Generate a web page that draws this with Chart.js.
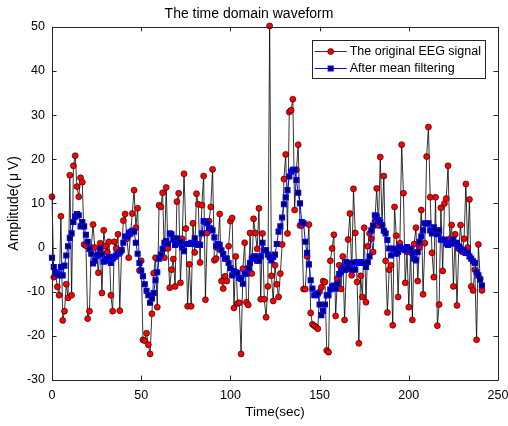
<!DOCTYPE html>
<html>
<head>
<meta charset="utf-8">
<script src="https://cdn.jsdelivr.net/npm/chart.js@4.4.1/dist/chart.umd.min.js"></script>
<style>
  html, body { margin: 0; padding: 0; background: #fff; }
  #wrap { width: 508px; height: 426px; }
</style>
</head>
<body>
<div id="wrap"><canvas id="waveChart" width="508" height="426"></canvas></div>
<script>
// EEG amplitude (uV), one sample per second
const eegRaw = [
  11.5, -6.7, -6, -8.9, -10.8, 7.1, -16.5, -14.4, -8.3, -11.4,
  16.4, -10.8, 18.5, 20.8, 13.8, 11.5, 15.8, 14.8, 0.7, 0.4,
  -16.1, -14.4, 0, 5.2, 0, -2, -5.7, 1, -10.3, 3.9,
  0.3, -1, 1.3, -10.8, -14.4, 1.3, -0.2, 3, -14.3, -0.8,
  6.1, 7.6, 2, -2.3, 3, 7.7, 13, 4.5, 8.9, -5.2,
  -3, -20.9, -21.1, -19.4, -22, -24.1, -15, -5.8, -2.3, -13.5,
  9.6, 9.2, 12.4, -2.3, 13.6, -0.2, -9.1, -5, -2.6, -8.8,
  10.4, 12.3, -8, 2, 16.7, 4.3, -13.3, -3.8, -13.3, 5.5,
  -1.1, 12.2, 9.8, -3.4, 9.6, 16.2, -11.8, 3.3, 6, 9.2,
  17.7, -2.9, -2.5, -0.2, 7.6, -7.6, -9.3, -6.5, -7.6, 0.3,
  6, 6.7, -13.7, -2, -12.7, -12.5, -24.1, -4.8, 1.1, -12.4,
  -13, 3.3, -5.9, 6.5, 3.3, -0.3, 8.9, -11.7, 3.2, -11.7,
  -15.8, -8.8, 50.2, -6.4, -12.1, -4, -8.3, -11.2, -5.9, 0.7,
  15.5, 21.1, 3.2, 30.7, 31.1, 33.6, 8.5, 17.6, 23.3, 5,
  5, -9.4, -9.4, -2, 5.2, -14.8, -17.4, -17.7, -18, -18.4,
  -10, -9, -7.6, -7.8, -23.3, -23.7, -3, -0.2, 2.9, -15.5,
  -7, -4, -9.4, -2, -16.4, -5, 1.8, 7.7, -6.3, 13.3,
  3.3, -7.8, -21.7, -6.4, -11.2, 4.5, -12.4, 0.3, 3.2, 2,
  -1, 6, 13.4, 5, 20.5, 5.1, 16.2, -3, -14.7, -5,
  -4, -17.6, 9.2, 2.7, -11.2, 1, 23.3, 12.3, -8, -1,
  -13.5, -0.5, -16.4, 0.8, 4.5, -7.6, 0, 8.5, -10.6, 1,
  20.6, 27.3, 11.4, -1.2, -6.7, 11.4, -17.7, -12.9, 9, -5.3,
  10, 11.1, 18.5, 2, 5.1, -8.8, 3, -13.1, -0.3, 5.1,
  -1, 2, 14.4, 0, 10.9, -8.8, -9.7, -5, -20.9, 0.7,
  -7, -9.7
];

// after mean filtering
const eegFiltered = [
  -2.3, -4.4, -5.6, -6, -6.3, -4.4, -6.3, -4.1, -1.8, 0.3,
  2.2, 3.2, 5.8, 7, 7.6, 7.3, 4.8, 5.8, 4.8, 2.9,
  1.3, -0.3, -1.4, -3.6, -3, -1.8, -1.6, -0.3, -1.6, -3.2,
  -3, -2.5, -2.1, -3.5, -2.5, -2.1, -1.8, -1.4, -1.1, -0.5,
  1.1, 2.5, 2.5, 3.2, 3.5, 3.8, 3.6, 1.1, -1.4, -3.5,
  -5.2, -6.5, -8.3, -9.8, -10.8, -12.5, -11.5, -10.3, -7.4, -5.6,
  -2.5, -1.6, -0.3, 1.1, 1.5, 0.9, 3.2, 3, 1.8, 0.6,
  2.1, 0.9, 1.3, 0, -0.8, 0.8, 0.8, 0.8, 1.1, 0.8,
  2.1, 0.8, 0.6, 0.6, 3.2, 6, 5.8, 5.5, 4.5, 4.3,
  3.9, 2.3, 0.3, 0.8, 0.6, -0.6, -1.5, -2.5, -2.5, -3.5,
  -4.7, -6.3, -5.3, -5.6, -5.8, -6.9, -7.1, -8.2, -6, -5.9,
  -4.7, -3.5, -2.5, -2.1, -2, -3, -3, -2, 1.1, -0.6,
  -0.6, -1.6, -2.1, -2.9, -2.1, -1.6, 0.8, 3.6, 4.8, 6.8,
  9.8, 11.4, 13, 16.1, 17.2, 17.6, 17.6, 15.3, 12.4, 10,
  5.8, 5.5, 1.3, -1.2, -3.8, -7.4, -9.3, -10.8, -10.8, -10.4,
  -12.9, -15.3, -14.3, -12.9, -10.8, -10.8, -9.5, -8.9, -8.6, -9.3,
  -8.2, -6, -5.5, -4.7, -5.1, -3.3, -4.6, -3.5, -5, -3.4,
  -5, -3.3, -3.5, -3.3, -3.5, -3.5, -4.4, -3.3, -2, 3.9,
  5, 7.3, 7, 6.2, 5.8, 5, 3.8, 3.2, 1.7, -0.2,
  -1.8, -0.2, -0.4, -1.4, -1, 0.1, -0.2, -0.4, -0.6, 0.1,
  -0.6, -0.2, -1.2, -2.5, -2.9, -1, 1.3, 2.5, 3.9, 5.5,
  5.4, 5.5, 3.9, 3.2, 4.6, 3.9, 3, 3.9, 1.8, 1.7,
  1.8, 0.9, 0.6, 0.9, 1.5, 1.8, 0.9, 1.1, 0.3, -0.2,
  -0.6, -0.6, -1.2, -1.2, -2, -2.5, -3.1, -3.5, -5.6, -6.3,
  -7.3, -8.6
];

// time axis (sec): sample index starting at 0
const timeSec = eegRaw.map((v, i) => i);

const xTicks = [0, 50, 100, 150, 200, 250];
const yTicks = [-30, -20, -10, 0, 10, 20, 30, 40, 50];

const FONT = "'Liberation Sans', Arial, Helvetica, sans-serif";
Chart.defaults.font.family = FONT;
Chart.defaults.color = '#000';

// matlab style box with inward ticks
const boxTicks = {
  id: 'boxTicks',
  afterDatasetsDraw(chart) {
    const { ctx, chartArea: a, scales } = chart;
    const len = 4.5;
    ctx.save();
    ctx.strokeStyle = '#262626';
    ctx.lineWidth = 1;
    ctx.beginPath();
    ctx.rect(Math.round(a.left) + 0.5, Math.round(a.top) + 0.5,
      Math.round(a.right - a.left), Math.round(a.bottom - a.top));
    xTicks.forEach(v => {
      const px = Math.round(scales.x.getPixelForValue(v)) + 0.5;
      ctx.moveTo(px, a.bottom); ctx.lineTo(px, a.bottom - len);
      ctx.moveTo(px, a.top); ctx.lineTo(px, a.top + len);
    });
    yTicks.forEach(v => {
      const py = Math.round(scales.y.getPixelForValue(v)) + 0.5;
      ctx.moveTo(a.left, py); ctx.lineTo(a.left + len, py);
      ctx.moveTo(a.right, py); ctx.lineTo(a.right - len, py);
    });
    ctx.stroke();
    ctx.restore();
  }
};

// legend box in the upper right corner, line + marker samples
const boxLegend = {
  id: 'boxLegend',
  afterDraw(chart) {
    const { ctx, chartArea: a } = chart;
    const sets = chart.data.datasets;
    ctx.save();
    ctx.font = '12.5px ' + FONT;
    const textW = Math.max(...sets.map(d => ctx.measureText(d.label).width));
    const w = 38 + textW + 4;
    const h = 38;
    const right = a.right - 13;
    const top = a.top + 13;
    const left = right - w;
    ctx.fillStyle = '#fff';
    ctx.fillRect(left, top, w, h);
    ctx.strokeStyle = '#262626';
    ctx.lineWidth = 1;
    ctx.strokeRect(Math.round(left) + 0.5, Math.round(top) + 0.5, Math.round(w), Math.round(h));
    sets.slice().reverse().forEach((d, i) => {
      const y = Math.round(top + 11 + i * 17) + 0.5;
      ctx.strokeStyle = d.borderColor;
      ctx.lineWidth = d.borderWidth;
      ctx.beginPath();
      ctx.moveTo(left + 3, y); ctx.lineTo(left + 35, y);
      ctx.stroke();
      const mx = left + 19;
      ctx.fillStyle = d.pointBackgroundColor;
      ctx.strokeStyle = d.pointBorderColor;
      ctx.lineWidth = d.pointBorderWidth;
      ctx.beginPath();
      if (d.pointStyle === 'rect') {
        const s = d.pointRadius * Math.SQRT1_2;
        ctx.rect(mx - s, y - s, 2 * s, 2 * s);
      } else {
        ctx.arc(mx, y, d.pointRadius, 0, Math.PI * 2);
      }
      ctx.fill();
      ctx.stroke();
      ctx.fillStyle = '#000';
      ctx.textAlign = 'left';
      ctx.textBaseline = 'middle';
      ctx.fillText(d.label, left + 38, y);
    });
    ctx.restore();
  }
};

const ctx = document.getElementById('waveChart').getContext('2d');
new Chart(ctx, {
  type: 'line',
  data: {
    datasets: [
      {
        label: 'After mean filtering',
        data: timeSec.map((t, i) => ({ x: t, y: eegFiltered[i] })),
        borderColor: '#0000ff',
        borderWidth: 1,
        pointStyle: 'rect',
        pointRadius: 3.4,
        pointBackgroundColor: '#000030',
        pointBorderColor: '#0000ff',
        pointBorderWidth: 1.3,
        tension: 0,
        clip: false,
        order: 0
      },
      {
        label: 'The original EEG signal',
        data: timeSec.map((t, i) => ({ x: t, y: eegRaw[i] })),
        borderColor: '#000000',
        borderWidth: 0.8,
        pointStyle: 'circle',
        pointRadius: 3,
        pointBackgroundColor: '#ff0000',
        pointBorderColor: '#000000',
        pointBorderWidth: 0.6,
        tension: 0,
        clip: false,
        order: 1
      }
    ]
  },
  options: {
    responsive: false,
    animation: false,
    devicePixelRatio: 1,
    layout: { padding: { top: 0, right: 10, bottom: 0, left: 0 } },
    plugins: {
      legend: { display: false },
      tooltip: { enabled: false },
      title: {
        display: true,
        text: 'The time domain waveform',
        color: '#000',
        font: { size: 14, weight: 'normal' },
        padding: { top: 6, bottom: 4 }
      }
    },
    scales: {
      x: {
        type: 'linear',
        min: 0,
        max: 250,
        afterBuildTicks: s => { s.ticks = xTicks.map(v => ({ value: v })); },
        afterFit: s => { s.height = 46; s.paddingLeft = 0; s.paddingRight = 0; },
        ticks: { autoSkip: false, maxRotation: 0, padding: 8, color: '#000', font: { size: 12.5 } },
        grid: { display: false, drawTicks: false },
        border: { display: false },
        title: { display: true, text: 'Time(sec)', color: '#000', font: { size: 13.5 }, padding: { top: 0, bottom: 6 } }
      },
      y: {
        min: -30,
        max: 50,
        afterBuildTicks: s => { s.ticks = yTicks.map(v => ({ value: v })); },
        afterFit: s => { s.width = 52; s.paddingTop = 0; s.paddingBottom = 0; },
        ticks: { padding: 7, color: '#000', font: { size: 12.5 } },
        grid: { display: false, drawTicks: false },
        border: { display: false },
        title: { display: true, text: 'Amplitude(\u2009\u03bc\u2009V)', color: '#000', font: { size: 14 }, padding: { top: 6, bottom: 0 } }
      }
    }
  },
  plugins: [boxTicks, boxLegend]
});
</script>
</body>
</html>
